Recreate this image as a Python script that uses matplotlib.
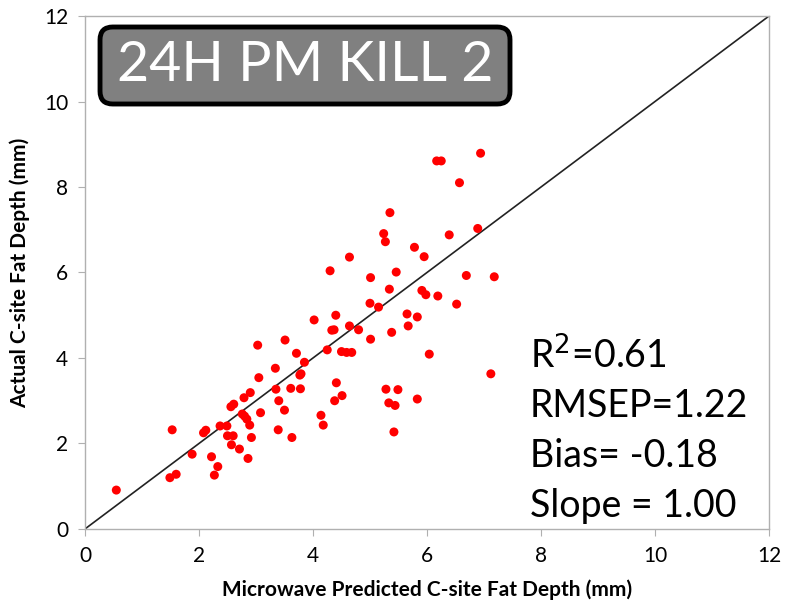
import matplotlib
matplotlib.use("Agg")
import matplotlib.pyplot as plt
from matplotlib.patches import FancyBboxPatch
import numpy as np

# predicted (x) vs actual (y) C-site fat depth, mm
predicted = [0.55, 1.53, 1.49, 1.60, 1.88, 2.08, 2.12, 2.22, 2.33, 2.27,
             2.37, 2.49, 2.50, 2.60, 2.57, 2.71, 2.86, 2.92, 2.89, 2.84,
             2.76, 2.80, 2.56, 2.61, 2.79, 2.90, 3.08, 3.05, 3.03, 3.34,
             3.35, 3.40, 3.50, 3.39, 3.63, 3.51, 3.71, 3.85, 3.77, 3.79,
             3.61, 3.78, 4.02, 4.40, 4.33, 4.37, 4.64, 4.80, 4.25, 4.50,
             4.59, 4.68, 4.41, 4.51, 4.38, 4.14, 4.18, 5.00, 5.15, 5.01,
             5.38, 5.65, 5.83, 5.67, 6.04, 5.28, 5.49, 5.33, 5.44, 5.83,
             5.42, 5.27, 5.78, 5.95, 4.64, 4.30, 5.01, 5.46, 5.34, 5.91,
             5.98, 6.19, 6.17, 6.25, 6.94, 6.57, 6.39, 6.89, 6.69, 7.18,
             6.52, 7.12, 5.35, 5.24]
actual = [0.91, 2.32, 1.20, 1.28, 1.75, 2.25, 2.31, 1.69, 1.46, 1.26,
          2.41, 2.41, 2.18, 2.18, 1.97, 1.87, 1.65, 2.14, 2.43, 2.57,
          2.69, 2.64, 2.86, 2.92, 3.07, 3.19, 2.72, 3.54, 4.30, 3.76,
          3.27, 3.00, 2.78, 2.32, 2.14, 4.42, 4.11, 3.90, 3.60, 3.63,
          3.29, 3.28, 4.89, 5.00, 4.65, 4.66, 4.75, 4.66, 4.19, 4.15,
          4.13, 4.13, 3.42, 3.12, 3.00, 2.66, 2.43, 5.28, 5.19, 4.44,
          4.60, 5.03, 4.96, 4.75, 4.09, 3.27, 3.26, 2.95, 2.89, 3.04,
          2.27, 6.72, 6.59, 6.37, 6.36, 6.04, 5.88, 6.01, 5.61, 5.58,
          5.48, 5.45, 8.61, 8.61, 8.79, 8.10, 6.88, 7.03, 5.93, 5.90,
          5.26, 3.63, 7.40, 6.91]

ticks = [0, 2, 4, 6, 8, 10, 12]
stats = ["R$^2$=0.61", "RMSEP=1.22", "Bias= -0.18", "Slope = 1.00"]
title = "24H PM KILL 2"

plt.rcParams['font.family'] = ['Lato', 'DejaVu Sans']

fig = plt.figure(figsize=(7.97, 6.04), dpi=100)
ax = fig.add_axes([0.1066, 0.1242, 0.8583, 0.8493])

ax.plot([0, 12], [0, 12], color='#222222', linewidth=1.2, zorder=1)
ax.scatter(predicted, actual, s=42, color='#ff0000', edgecolors='none', zorder=2)

ax.set_xlim(0, 12)
ax.set_ylim(0, 12)
ax.set_xticks(ticks)
ax.set_yticks(ticks)
for sp in ax.spines.values():
	sp.set_color('#b0b0b0')
	sp.set_linewidth(1.0)
ax.tick_params(direction='out', length=5, color='#b0b0b0', labelsize=15, pad=7)

ax.set_xlabel('Microwave Predicted C-site Fat Depth (mm)', fontsize=15,
              fontweight='bold', labelpad=10)
ax.set_ylabel('Actual C-site Fat Depth (mm)', fontsize=15,
              fontweight='bold', labelpad=10)

for i, s in enumerate(stats):
	ax.text(7.8, 4.05 - i * 1.17, s, fontsize=27, color='black',
	        ha='left', va='center')

# title box
box = FancyBboxPatch((0.1255, 0.8278), 0.5144, 0.1275,
                     boxstyle="round,pad=0,rounding_size=0.016",
                     mutation_aspect=797 / 604, transform=fig.transFigure,
                     facecolor='#808080', edgecolor='black', linewidth=3.5,
                     zorder=5)
fig.patches.append(box)
fig.text(0.1255 + 0.5144 / 2, 0.8278 + 0.1275 / 2, title, color='white',
         fontsize=40, ha='center', va='center', zorder=6)

fig.savefig('out.png', dpi=100)
